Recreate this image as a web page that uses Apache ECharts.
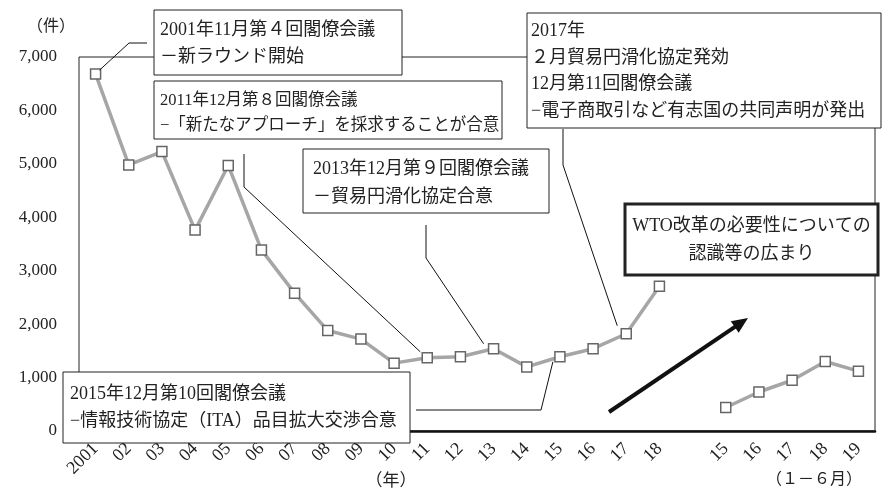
<!DOCTYPE html>
<html>
<head>
<meta charset="utf-8">
<script src="https://cdn.jsdelivr.net/npm/echarts@6/dist/echarts.min.js"></script>
<style>
  html, body { margin: 0; padding: 0; background: #fff; }
  #chart { width: 885px; height: 493px; }
</style>
</head>
<body>
<div id="chart"></div>
<script>
// Annual counts 2001-2018, then Jan-Jun counts 2015-2019 (one blank slot between)
const categories = ['2001', '02', '03', '04', '05', '06', '07', '08', '09', '10',
  '11', '12', '13', '14', '15', '16', '17', '18', '', '15', '16', '17', '18', '19'];
const annualValues = [6680, 4980, 5230, 3760, 4970, 3390, 2580, 1880, 1720, 1270,
  1370, 1390, 1540, 1200, 1390, 1540, 1820, 2710];
const halfYearValues = [440, 730, 950, 1300, 1120];
const yTicks = [0, 1000, 2000, 3000, 4000, 5000, 6000, 7000];

const FONT = '"Liberation Serif", "Noto Sans CJK JP", serif';
const gap = categories.length - annualValues.length - halfYearValues.length;

const seriesAnnual = annualValues.concat(new Array(categories.length - annualValues.length).fill('-'));
const seriesHalf = new Array(annualValues.length + gap).fill('-').concat(halfYearValues);

const chart = echarts.init(document.getElementById('chart'), null, { renderer: 'canvas' });

const lineStyle = { color: '#a6a6a6', width: 3.5 };
const itemStyle = { color: '#ffffff', borderColor: '#666666', borderWidth: 1.5 };

chart.setOption({
  animation: false,
  backgroundColor: '#ffffff',
  grid: {
    left: 79, right: 10, top: 57, bottom: 62,
    show: true, borderColor: '#222', borderWidth: 1, backgroundColor: 'transparent'
  },
  xAxis: {
    type: 'category',
    data: categories,
    boundaryGap: true,
    axisLine: { lineStyle: { color: '#111', width: 2.5 } },
    axisTick: { show: false },
    axisLabel: {
      rotate: 45, interval: 0, margin: 15,
      color: '#222', fontSize: 18, fontFamily: FONT
    }
  },
  yAxis: {
    type: 'value',
    min: yTicks[0], max: yTicks[yTicks.length - 1], interval: yTicks[1] - yTicks[0],
    axisLine: { show: false },
    axisTick: { show: false },
    splitLine: { show: false },
    axisLabel: {
      margin: 22, color: '#222', fontSize: 17, fontFamily: FONT,
      formatter: v => v.toLocaleString('en-US')
    }
  },
  series: [
    {
      type: 'line', data: seriesAnnual, symbol: 'rect', symbolSize: 10,
      lineStyle, itemStyle, z: 3
    },
    {
      type: 'line', data: seriesHalf, symbol: 'rect', symbolSize: 10,
      lineStyle, itemStyle, z: 3
    }
  ]
});

// pixel position of a data point
const px = (idx, val) => chart.convertToPixel({ xAxisIndex: 0, yAxisIndex: 0 }, [idx, val]);
const ptA = i => px(i, annualValues[i]);

function box(x, y, w, h, lines, opts) {
  opts = opts || {};
  const lw = opts.lineWidth || 1;
  const center = !!opts.center;
  const fs = opts.fontSize || 18;
  const lh = opts.lineHeight || 27;
  return {
    type: 'group', z: 10,
    children: [
      { type: 'rect', shape: { x, y, width: w, height: h },
        style: { fill: '#fff', stroke: '#222', lineWidth: lw }, z: 10 },
      { type: 'text', z: 11,
        style: {
          x: center ? x + w / 2 : x + (opts.padLeft || 6),
          y: y + (opts.padTop || 6),
          text: lines.join('\n'),
          fill: '#222', font: fs + 'px ' + FONT,
          lineHeight: lh, align: center ? 'center' : 'left', verticalAlign: 'top'
        } }
    ]
  };
}

function poly(points, width) {
  return { type: 'polyline', z: 9, shape: { points },
    style: { stroke: '#111', lineWidth: width || 1, fill: null } };
}

function text(x, y, s, size, align) {
  return { type: 'text', z: 11,
    style: { x, y, text: s, fill: '#222', font: (size || 16) + 'px ' + FONT,
      align: align || 'left', verticalAlign: 'middle' } };
}

const p01 = ptA(0), p11 = ptA(10), p13 = ptA(12), p15 = ptA(14), p17 = ptA(16);

// trend arrow
const a0 = [609, 412], a1 = [748, 318];
const ang = Math.atan2(a1[1] - a0[1], a1[0] - a0[0]);
const hl = 16, hw = 7;
const base = [a1[0] - hl * Math.cos(ang), a1[1] - hl * Math.sin(ang)];
const head = [
  a1,
  [base[0] + hw * Math.sin(ang), base[1] - hw * Math.cos(ang)],
  [base[0] - hw * Math.sin(ang), base[1] + hw * Math.cos(ang)]
];

chart.setOption({
  graphic: [
    text(27, 27, '（件）', 16),
    text(391, 482, '（年）', 17, 'center'),
    text(814, 480, '（１－６月）', 16, 'center'),

    poly([[p01[0] + 4, p01[1] - 4], [129, 43], [147, 43]]),
    box(154, 10, 248, 65, ['2001年11月第４回閣僚会議', '－新ラウンド開始'], { padTop: 6.5 }),

    poly([[244, 154], [244, 187], [p11[0] - 7, p11[1] - 6]]),
    box(154, 81, 348, 58, ['2011年12月第８回閣僚会議', '−「新たなアプローチ」を採求することが合意'],
      { padTop: 7, lineHeight: 25, fontSize: 16.5 }),

    poly([[426, 225], [426, 258], [p13[0] - 10, p13[1] - 5]]),
    box(303, 149, 246, 64, ['2013年12月第９回閣僚会議', '－貿易円滑化協定合意'],
      { padTop: 7, lineHeight: 27.5, padLeft: 10 }),

    poly([[563, 129], [563, 165], [p17[0] - 9, p17[1] - 8]]),
    box(527, 13, 354, 115, ['2017年', '２月貿易円滑化協定発効', '12月第11回閣僚会議', '−電子商取引など有志国の共同声明が発出'],
      { padTop: 5.5, lineHeight: 26.5, padLeft: 4 }),

    poly([[416, 410], [541, 410], [p15[0] - 7, p15[1] + 5]]),
    box(63, 372, 347, 71, ['2015年12月第10回閣僚会議', '−情報技術協定（ITA）品目拡大交渉合意'],
      { padTop: 9.5, lineHeight: 26.5, padLeft: 7 }),

    box(625, 204, 253, 71, ['WTO改革の必要性についての', '認識等の広まり'],
      { center: true, lineWidth: 3, fontSize: 18, padTop: 8, lineHeight: 28 }),

    { type: 'line', z: 9, shape: { x1: a0[0], y1: a0[1], x2: base[0] + 2 * Math.cos(ang), y2: base[1] + 2 * Math.sin(ang) },
      style: { stroke: '#111', lineWidth: 4 } },
    { type: 'polygon', z: 9, shape: { points: head }, style: { fill: '#111' } }
  ]
});
</script>
</body>
</html>
